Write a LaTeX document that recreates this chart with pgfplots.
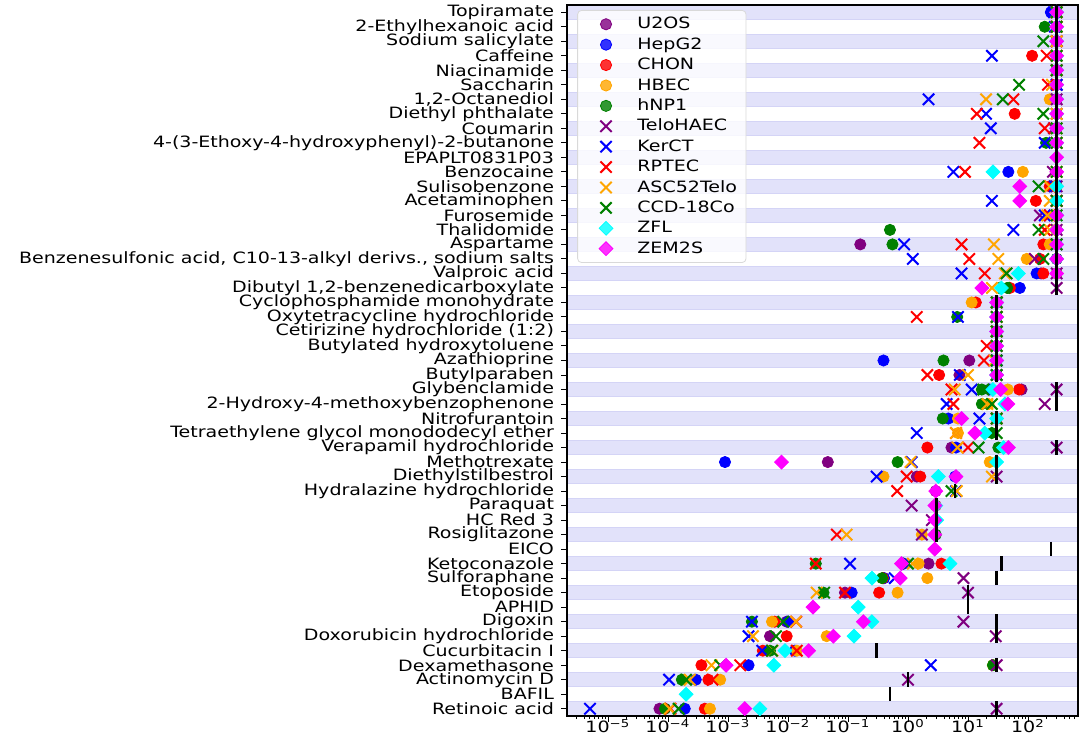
\documentclass[border=0pt]{standalone}
\usepackage{pgfplots}
\pgfplotsset{compat=1.18}
\usepackage{pgfplotstable}
\usepackage{fontspec}
\setmainfont{DejaVu Sans}

\definecolor{cpurple}{RGB}{128,0,128}
\definecolor{cblue}{RGB}{0,0,255}
\definecolor{cred}{RGB}{255,0,0}
\definecolor{corange}{RGB}{255,165,0}
\definecolor{cgreen}{RGB}{0,128,0}
\definecolor{ccyan}{RGB}{0,255,255}
\definecolor{cmagenta}{RGB}{255,0,255}
\definecolor{bandfill}{RGB}{226,226,250}
\definecolor{bandedge}{RGB}{212,212,246}

% text in the reference is stretched sideways
\newcommand{\sx}[1]{\scalebox{1.22}[1]{#1}}

% rows: 0 = Topiramate (top) ... 48 = Retinoic acid (bottom)
\pgfplotstableread{
row U2OS HepG2 CHON HBEC hNP1 Telo KerCT RPTEC ASC CCD ZFL ZEM ref
0 300 240 300 300 300 300 270 300 300 300 300 300 300
1 300 300 300 300 190 300 280 300 300 300 300 300 300
2 300 300 300 300 300 300 300 300 300 180 300 300 300
3 300 300 117 300 300 300 25 205 300 300 300 300 300
4 300 300 300 300 300 300 300 300 300 300 300 300 300
5 300 300 300 300 300 300 300 215 250 71 300 300 300
6 300 300 300 230 300 300 2.2 57 20 38 300 300 300
7 300 300 60 300 300 300 20 14 300 180 300 300 300
8 300 300 300 300 300 270 24 190 300 300 300 300 300
9 300 300 300 300 200 300 190 15.5 300 300 300 300 300
10 nan nan nan nan nan nan nan nan nan nan nan 300 300
11 300 47 300 82 300 260 5.7 8.9 300 300 26 300 300
12 300 280 230 300 300 300 280 230 230 150 300 73 300
13 300 300 135 300 300 300 25 300 230 300 300 73 300
14 300 300 300 300 300 158 190 230 210 300 300 300 300
15 300 300 300 300 0.5 300 57 190 230 150 300 300 300
16 0.16 300 180 230 0.55 300 0.86 7.8 27 300 300 300 300
17 300 300 158 95 300 130 1.2 10.5 32 180 300 300 300
18 165 139 180 300 300 300 7.8 19 41 44 69 300 300
19 nan 73 50 nan 45 300 nan nan 25 40 36 17 300
20 30 30 13.5 11.5 30 30 30 30 30 30 30 30 30
21 30 30 30 30 6.6 30 6.8 1.4 30 30 30 30 30
22 30 30 30 30 30 30 30 30 30 30 30 30 30
23 30 30 30 30 30 30 30 20.5 30 30 30 30 30
24 10.5 0.39 30 30 3.9 30 30 18.5 28 30 30 30 30
25 7.2 30 3.3 30 30 30 7.3 2.1 10 30 30 30 30
26 78 23 71 46 17 300 11.5 5.3 6 18 26 35 300
27 nan nan nan 22 17 190 4.4 5.7 21 25 41 46 300
28 30 4.7 30 6.8 3.8 30 15.5 30 30 30 30 7.8 30
29 nan nan nan 6.8 25 nan 1.4 6.3 6.3 30 19 13 30
30 5.3 6.3 2.1 nan 32 300 nan 10 6.7 15 39 47 300
31 0.046 8.9e-4 nan 23 0.67 nan 1.15 nan 1.1 nan 30 7.8e-3 30
32 1.4 6.1 1.6 0.39 nan 30 0.3 0.95 25 nan 3.2 6.3 30
33 2.9 nan nan nan nan nan 6.3 0.66 6.5 5.3 nan 2.9 6
34 nan nan 2.9 nan nan 1.15 nan nan nan nan 2.9 2.8 3
35 nan nan nan nan nan 2.5 nan nan nan nan 3.0 2.8 3
36 nan nan nan 1.7 2.9 1.7 nan 0.065 0.095 nan nan 2.8 3
37 nan nan nan nan nan nan nan nan nan nan nan 2.8 240
38 2.2 0.85 3.6 1.5 0.029 nan 0.108 0.029 1.2 1.0 5.0 0.78 36
39 0.39 0.40 0.38 2.1 0.37 8.4 0.6 nan nan nan 0.25 0.74 30
40 0.089 0.115 0.33 0.67 0.039 10 nan 0.089 0.030 0.040 nan nan 10
41 nan nan nan nan nan nan nan nan nan nan 0.148 0.026 10
42 0.0095 0.010 0.006 0.0054 0.0025 8.4 0.0025 0.0137 0.0135 0.0083 0.25 0.18 30
43 0.005 nan 0.0095 0.044 nan 29 0.0022 nan 0.0026 0.0063 0.126 0.057 30
44 nan 0.013 0.0038 0.014 0.005 nan 0.0037 0.014 0.0055 0.0054 0.0089 0.022 0.3
45 nan 0.0022 3.6e-4 26 26 30 2.4 0.0016 5.3e-4 7.4e-4 0.0058 9.3e-4 30
46 nan 2.9e-4 4.7e-4 7.4e-4 1.7e-4 1.0 1.04e-4 5.5e-4 2.3e-4 2.0e-4 nan nan 1.0
47 nan nan nan nan nan nan nan nan nan nan 2.0e-4 nan 0.5
48 7.2e-5 1.9e-4 4.1e-4 5.0e-4 8.9e-5 30 5.0e-6 1.1e-4 1.07e-4 1.5e-4 3.4e-3 1.9e-3 30
}\data

\pgfplotsset{
  cat/.style={only marks,
    legend image code/.code={\path (0pt,-3pt) (25pt,3pt); \draw[##1] plot coordinates {(11pt,0pt)};}},
  dot/.style={cat, mark=*, mark size=2.8pt, color=#1},
  crs/.style={cat, mark=x, mark size=4pt, color=#1, mark options={line width=1pt}},
  dia/.style={cat, mark=square*, mark size=2.45pt, color=#1, mark options={rotate=45}},
}

\begin{document}
\begin{tikzpicture}
\begin{axis}[
    set layers,
    width=255.5pt, height=355.5pt, scale only axis,
    xmode=log, log basis x=10,
    xmin=2.07e-6, xmax=681,
    ymin=-0.5, ymax=48.5, y dir=reverse,
    font=\fontsize{7.8}{8}\selectfont,
    axis line style={black, line width=0.6pt},
    tick align=outside, xtick pos=bottom, ytick pos=left,
    major tick length=3pt, minor tick length=1.6pt,
    tick style={black, line width=0.5pt},
    xticklabel style={yshift=5pt},
    xtick={1e-5,1e-4,1e-3,1e-2,1e-1,1,10,100},
    xticklabels={\sx{10\textsuperscript{−5}}, \sx{10\textsuperscript{−4}}, \sx{10\textsuperscript{−3}},
        \sx{10\textsuperscript{−2}}, \sx{10\textsuperscript{−1}}, \sx{10\textsuperscript{0}},
        \sx{10\textsuperscript{1}}, \sx{10\textsuperscript{2}}},
    minor xtick={3e-6,4e-6,5e-6,6e-6,7e-6,8e-6,9e-6,
        2e-5,3e-5,4e-5,5e-5,6e-5,7e-5,8e-5,9e-5,
        2e-4,3e-4,4e-4,5e-4,6e-4,7e-4,8e-4,9e-4,
        2e-3,3e-3,4e-3,5e-3,6e-3,7e-3,8e-3,9e-3,
        0.02,0.03,0.04,0.05,0.06,0.07,0.08,0.09,
        0.2,0.3,0.4,0.5,0.6,0.7,0.8,0.9,
        2,3,4,5,6,7,8,9,20,30,40,50,60,70,80,90,200,300,400,500,600},
    ytick={0,...,48},
    yticklabels={\sx{Topiramate}, \sx{2-Ethylhexanoic acid}, \sx{Sodium salicylate}, \sx{Caffeine},
        \sx{Niacinamide}, \sx{Saccharin}, \sx{1,2-Octanediol}, \sx{Diethyl phthalate}, \sx{Coumarin},
        \sx{4-(3-Ethoxy-4-hydroxyphenyl)-2-butanone}, \sx{EPAPLT0831P03}, \sx{Benzocaine},
        \sx{Sulisobenzone}, \sx{Acetaminophen}, \sx{Furosemide}, \sx{Thalidomide}, \sx{Aspartame},
        \sx{Benzenesulfonic acid, C10-13-alkyl derivs., sodium salts}, \sx{Valproic acid},
        \sx{Dibutyl 1,2-benzenedicarboxylate}, \sx{Cyclophosphamide monohydrate},
        \sx{Oxytetracycline hydrochloride}, \sx{Cetirizine hydrochloride (1:2)},
        \sx{Butylated hydroxytoluene}, \sx{Azathioprine}, \sx{Butylparaben}, \sx{Glybenclamide},
        \sx{2-Hydroxy-4-methoxybenzophenone}, \sx{Nitrofurantoin},
        \sx{Tetraethylene glycol monododecyl ether}, \sx{Verapamil hydrochloride}, \sx{Methotrexate},
        \sx{Diethylstilbestrol}, \sx{Hydralazine hydrochloride}, \sx{Paraquat}, \sx{HC Red 3},
        \sx{Rosiglitazone}, \sx{EICO}, \sx{Ketoconazole}, \sx{Sulforaphane}, \sx{Etoposide},
        \sx{APHID}, \sx{Digoxin}, \sx{Doxorubicin hydrochloride}, \sx{Cucurbitacin I},
        \sx{Dexamethasone}, \sx{Actinomycin D}, \sx{BAFIL}, \sx{Retinoic acid}},
    legend style={at={(0.02,0.993)}, anchor=north west, draw=black!15, rounded corners=2pt,
        fill=white, fill opacity=0.8, text opacity=1, font=\fontsize{7.8}{8}\selectfont,
        nodes={inner sep=1.5pt, text height=5.8pt, text depth=1.1pt}, row sep=0.3pt},
    legend cell align=left,
]
\pgfplotsinvokeforeach{0,2,...,48}{
  \begin{pgfonlayer}{axis background}
  \fill[bandfill, draw=bandedge, line width=0.5pt] (axis cs:2.07e-6,#1-0.5) rectangle (axis cs:681,#1+0.5);
  \end{pgfonlayer}
}
\addplot[dot=cpurple] table[x=U2OS, y=row] {\data};  \addlegendentry{\sx{U2OS}}
\addplot[dot=cblue] table[x=HepG2, y=row] {\data};   \addlegendentry{\sx{HepG2}}
\addplot[dot=cred] table[x=CHON, y=row] {\data};     \addlegendentry{\sx{CHON}}
\addplot[dot=corange] table[x=HBEC, y=row] {\data};  \addlegendentry{\sx{HBEC}}
\addplot[dot=cgreen] table[x=hNP1, y=row] {\data};   \addlegendentry{\sx{hNP1}}
\addplot[crs=cpurple] table[x=Telo, y=row] {\data};  \addlegendentry{\sx{TeloHAEC}}
\addplot[crs=cblue] table[x=KerCT, y=row] {\data};   \addlegendentry{\sx{KerCT}}
\addplot[crs=cred] table[x=RPTEC, y=row] {\data};    \addlegendentry{\sx{RPTEC}}
\addplot[crs=corange] table[x=ASC, y=row] {\data};   \addlegendentry{\sx{ASC52Telo}}
\addplot[crs=cgreen] table[x=CCD, y=row] {\data};    \addlegendentry{\sx{CCD-18Co}}
\addplot[dia=ccyan] table[x=ZFL, y=row] {\data};     \addlegendentry{\sx{ZFL}}
\addplot[dia=cmagenta] table[x=ZEM, y=row] {\data};  \addlegendentry{\sx{ZEM2S}}
% reference level per compound
\addplot[only marks, mark=|, mark size=3.63pt, black, mark options={line width=1.2pt}, forget plot]
    table[x=ref, y=row] {\data};
\end{axis}
\pgfresetboundingbox
\path[use as bounding box] (-283.5pt,-13.5pt) rectangle (261pt,358pt);
\end{tikzpicture}
\end{document}
